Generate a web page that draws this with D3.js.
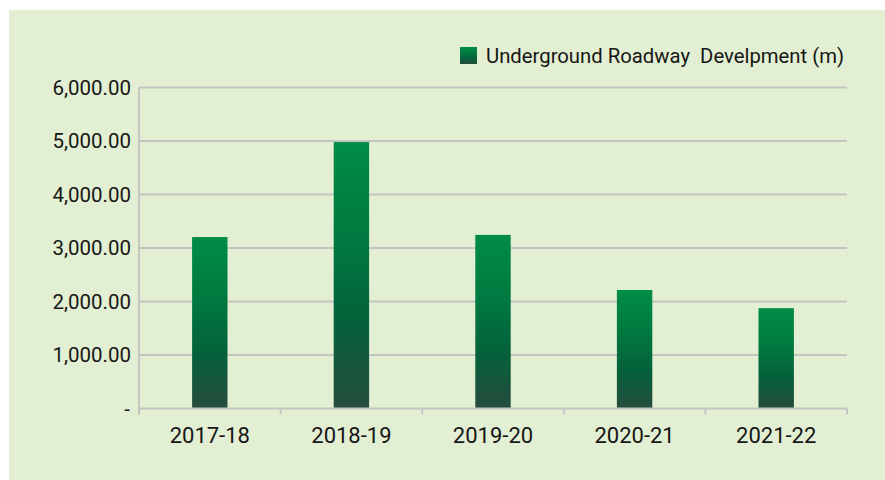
<!DOCTYPE html>
<html lang="en">
<head>
  <meta charset="UTF-8">
  <title>Underground Roadway Develpment</title>
  <style>
    body { margin: 0; background: #fff; }
    svg { display: block; }
    text { font-family: Roboto, 'Open Sans', sans-serif; fill: #161616; }
  </style>
</head>
<body>
  <svg id="chart" width="885" height="480"></svg>
  <script src="https://d3js.org/d3.v7.min.js"></script>
  <script>
    // data
    const years = ["2017-18", "2018-19", "2019-20", "2020-21", "2021-22"];
    const metres = [3205, 4980, 3245, 2215, 1875];
    const yTicks = [0, 1000, 2000, 3000, 4000, 5000, 6000];
    const seriesName = "Underground Roadway\u00a0\u00a0Develpment (m)";

    const svg = d3.select('#chart');
    const W = 885, H = 480;
    const plot = { left: 139, right: 847, top: 87.5, bottom: 408.5 };

    // panel
    svg.append('rect')
      .attr('x', 9).attr('y', 10)
      .attr('width', W - 9).attr('height', H - 10)
      .attr('fill', '#e2efd2');

    // gradient per bar
    const defs = svg.append('defs');
    const grad = defs.append('linearGradient')
      .attr('id', 'barGrad')
      .attr('x1', 0).attr('y1', 0).attr('x2', 0).attr('y2', 1);
    grad.append('stop').attr('offset', '0%').attr('stop-color', '#008c46');
    grad.append('stop').attr('offset', '35%').attr('stop-color', '#007a40');
    grad.append('stop').attr('offset', '68%').attr('stop-color', '#04613b');
    grad.append('stop').attr('offset', '100%').attr('stop-color', '#264c3d');

    const x = d3.scaleBand()
      .domain(years)
      .range([plot.left, plot.right])
      .paddingInner(0.75)
      .paddingOuter(0.375);

    const y = d3.scaleLinear()
      .domain([0, 6000])
      .range([plot.bottom, plot.top]);

    // gridlines
    svg.append('g')
      .selectAll('line')
      .data(yTicks.filter(d => d > 0))
      .enter().append('line')
      .attr('x1', plot.left).attr('x2', plot.right)
      .attr('y1', d => y(d)).attr('y2', d => y(d))
      .attr('stroke', '#c3c5c1')
      .attr('stroke-width', 1.8);

    // y axis labels
    const fmt = d3.format(',.2f');
    svg.append('g')
      .selectAll('text')
      .data(yTicks)
      .enter().append('text')
      .attr('x', d => d === 0 ? 130 : 131)
      .attr('y', d => y(d))
      .attr('dy', '0.35em')
      .attr('text-anchor', 'end')
      .attr('font-size', 20.5)
      .text(d => d === 0 ? '-' : fmt(d));

    // bars
    svg.append('g')
      .selectAll('rect')
      .data(metres)
      .enter().append('rect')
      .attr('x', (d, i) => x(years[i]))
      .attr('y', d => y(d))
      .attr('width', x.bandwidth())
      .attr('height', d => y(0) - y(d))
      .attr('fill', 'url(#barGrad)');

    // axis lines
    const axisColor = '#c3c5c1';
    svg.append('line')
      .attr('x1', plot.left).attr('x2', plot.left)
      .attr('y1', plot.top).attr('y2', plot.bottom + 6)
      .attr('stroke', axisColor).attr('stroke-width', 1.8);
    svg.append('line')
      .attr('x1', plot.left).attr('x2', plot.right)
      .attr('y1', plot.bottom).attr('y2', plot.bottom)
      .attr('stroke', axisColor).attr('stroke-width', 1.8);

    // category boundary ticks
    const bounds = d3.range(years.length + 1).map(i => plot.left + i * x.step());
    svg.append('g')
      .selectAll('line')
      .data(bounds)
      .enter().append('line')
      .attr('x1', d => d).attr('x2', d => d)
      .attr('y1', plot.bottom).attr('y2', plot.bottom + 6)
      .attr('stroke', axisColor).attr('stroke-width', 1.8);

    // x labels
    svg.append('g')
      .selectAll('text')
      .data(years)
      .enter().append('text')
      .attr('x', d => x(d) + x.bandwidth() / 2)
      .attr('y', 443)
      .attr('text-anchor', 'middle')
      .attr('font-size', 22)
      .text(d => d);

    // legend
    svg.append('rect')
      .attr('x', 460).attr('y', 47)
      .attr('width', 17).attr('height', 17)
      .attr('fill', 'url(#barGrad)');
    svg.append('text')
      .attr('x', 486).attr('y', 63)
      .attr('font-size', 19.5)
      .attr('textLength', 358)
      .attr('lengthAdjust', 'spacingAndGlyphs')
      .text(seriesName);
  </script>
</body>
</html>
